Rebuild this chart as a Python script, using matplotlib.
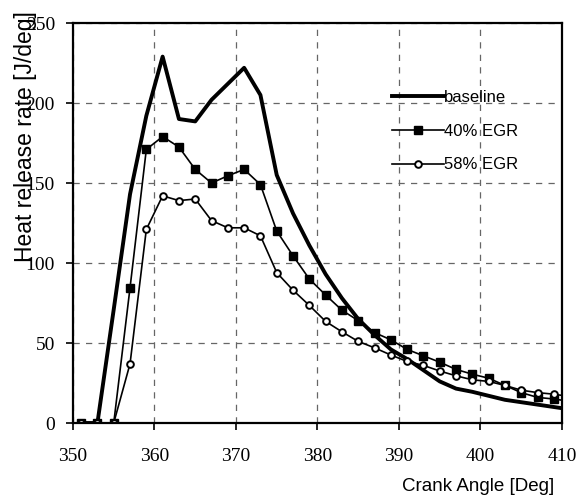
import matplotlib
matplotlib.use("Agg")
import matplotlib.pyplot as plt

# crank angle [deg] and heat release rate [J/deg]
crank = [351, 353, 355, 357, 359, 361, 363, 365, 367, 369, 371, 373, 375,
         377, 379, 381, 383, 385, 387, 389, 391, 393, 395, 397, 399, 401,
         403, 405, 407, 409, 411]
baseline = [0, 0, 71, 143, 192, 229, 190, 188.5, 202, 212, 222, 205, 155,
            131, 111, 93, 78, 65, 55, 46, 40, 33, 26, 21.5, 19.5, 17,
            14.5, 13, 11.5, 10, 8.5]
egr40 = [0, 0, 0, 84.5, 171, 179, 172.5, 158.5, 150, 154.5, 158.5, 149, 120,
         104.5, 90, 80, 70.5, 64, 56.5, 52, 46, 42, 38, 33.5, 30.5, 28,
         23.5, 19, 16, 15, 13.5]
egr58 = [0, 0, 0, 37, 121, 142, 139, 140, 126.5, 122, 122, 117, 94,
         83, 73.5, 63.5, 57, 51, 47, 42.5, 38.5, 36, 32.5, 29.5, 27, 26,
         23.5, 20.5, 19, 18, 16.5]

xticks = [350, 360, 370, 380, 390, 400, 410]
yticks = [0, 50, 100, 150, 200, 250]

fig = plt.figure(figsize=(5.82, 4.98), dpi=100)
ax = fig.add_axes([0.1254, 0.1506, 0.8402, 0.8032])

ax.plot(crank, baseline, color="black", lw=2.8, label="baseline")
ax.plot(crank, egr40, color="black", lw=1.2, marker="s", ms=5.5,
        label="40% EGR")
ax.plot(crank, egr58, color="black", lw=1.2, marker="o", ms=4.8,
        mfc="white", mew=1.4, label="58% EGR")

ax.set_xlim(350, 410)
ax.set_ylim(0, 250)
ax.set_xticks(xticks)
ax.set_yticks(yticks)
ax.grid(True, color="#666666", ls=(0, (5, 5)), lw=0.9)

for s in ax.spines.values():
    s.set_linewidth(1.6)
ax.tick_params(direction="out", length=5, width=1.2)
ax.tick_params(axis="x", pad=13)
ax.tick_params(axis="y", pad=8)
for lab in ax.get_xticklabels() + ax.get_yticklabels():
    lab.set_fontfamily("Liberation Serif")
    lab.set_fontsize(14)

sans = ["Liberation Sans", "DejaVu Sans"]
fig.text(0.043, 0.725, "Heat release rate [J/deg]", rotation=90,
         ha="center", va="center", fontsize=16.5, family=sans)
fig.text(0.952, 0.024, "Crank Angle [Deg]", ha="right", va="center",
         fontsize=13.5, family=sans)

leg = ax.legend(loc="upper left", bbox_to_anchor=(0.622, 0.87),
                frameon=False, handlelength=3.1, handletextpad=0.0,
                labelspacing=1.12, prop={"family": sans, "size": 12})

fig.savefig("out.png", dpi=100)
